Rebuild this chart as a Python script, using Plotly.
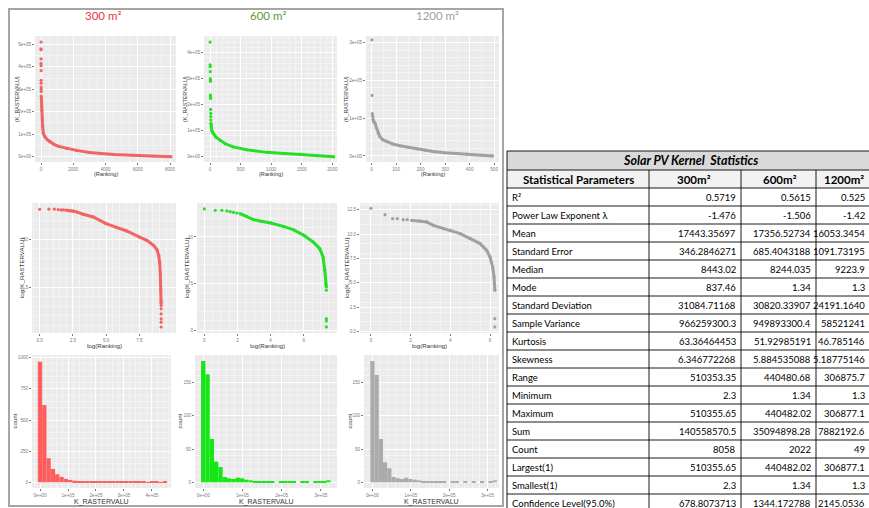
import numpy as np
import plotly.graph_objects as go

W, H = 869, 508

# ---------------- data ----------------
# Row 1: value vs rank
rank_300 = [1, 2, 3, 4, 5, 6, 7, 8, 9, 10, 12, 15, 20, 25, 30, 40, 50, 70, 100, 144, 250, 400, 554,
            800, 1100, 1580, 2200, 3000, 3630, 4500, 5680, 7000, 8058]
val_300 = [510356, 480000, 476000, 435000, 415000, 405000, 383000, 340000, 327000, 310000, 300000,
           290000, 270000, 255000, 245000, 225000, 205000, 170000, 135000, 104000, 88000, 75000, 67000,
           55000, 46000, 37000, 28000, 19000, 14000, 10000, 6000, 3000, 2.3]
rank_600 = [1, 2, 3, 4, 5, 6, 7, 8, 9, 10, 11, 12, 13, 14, 16, 20, 30, 54, 100, 163, 250, 380, 600,
            925, 1200, 1470, 1750, 2022]
val_600 = [440482, 353000, 346000, 327000, 300000, 295000, 290000, 237000, 230000, 224000, 182000,
           167000, 154000, 141000, 128000, 118000, 100000, 90000, 75000, 64000, 50000, 38000, 27000,
           17000, 12500, 10000, 6000, 1.34]
rank_1200 = [1, 2, 3, 4, 5, 6, 7, 8, 9, 10, 14, 20, 27, 34, 45, 61, 85, 115, 150, 183, 220, 251, 300,
             387, 450, 494]
val_1200 = [306877, 160000, 112000, 108000, 103000, 97000, 94000, 92000, 91000, 89000, 86000, 74000,
            60000, 51000, 43000, 38000, 32000, 27000, 23000, 19000, 14500, 11500, 8500, 5000, 2500, 1.34]
dense_from = {"300": 12, "600": 14, "1200": 9}

# Row 2: log(value) vs log(rank)
llx_300 = [0, 0.69, 1.10, 1.39, 1.61, 1.79, 2.0, 2.3, 2.52, 2.77, 3.27, 4.03, 4.99, 5.79, 6.55, 7.51,
           8.06, 8.56, 8.82, 8.95, 9.02, 9.07, 9.10, 9.12, 9.13, 9.13, 9.13, 9.13, 9.13, 9.13, 9.13]
lly_300 = [13.14, 13.15, 13.15, 13.11, 13.08, 13.08, 13.05, 13.0, 12.97, 12.87, 12.62, 12.34, 11.64,
           11.22, 10.87, 10.24, 9.90, 9.37, 8.92, 8.3, 7.6, 6.4, 4.65, 3.6, 3.3, 3.08, 2.73, 2.2, 1.68,
           1.33, 0.83]
llx_600 = [0, 0.66, 1.06, 1.36, 1.56, 1.76, 1.96, 2.16, 2.56, 2.96, 3.36, 4.0, 4.76, 5.36, 6.0, 6.56,
           6.96, 7.16, 7.26, 7.32, 7.36, 7.36, 7.36, 7.36, 7.36]
lly_600 = [13.0, 12.86, 12.86, 12.79, 12.71, 12.64, 12.57, 12.5, 12.21, 11.86, 11.71, 11.5, 11.14,
           10.79, 10.18, 9.46, 8.75, 7.86, 6.43, 5.0, 4.64, 4.29, 1.25, 1.0, 0.36]
llx_1200 = [0, 0.71, 1.09, 1.33, 1.63, 1.83, 2.05, 2.47, 2.81, 3.14, 3.65, 4.02, 4.49, 5.0, 5.5, 5.83,
            6.0, 6.13, 6.2, 6.24, 6.24, 6.24]
lly_1200 = [12.63, 11.98, 11.57, 11.57, 11.47, 11.47, 11.4, 11.34, 11.24, 10.89, 10.55, 10.38, 10.04,
            9.53, 9.02, 8.33, 7.65, 6.63, 5.6, 4.23, 1.33, 0.48]
ll_dense_from = {"300": 6, "600": 7, "1200": 6}
ll_dense_to = {"300": 25, "600": 21, "1200": 20}

# Row 3: histogram counts (30 bins each)
binw_300, binw_600, binw_1200 = 15400, 11000, 11000
cnt_300 = [968, 620, 193, 107, 64, 43, 27, 19, 13, 10, 7, 5, 4, 3, 4, 3, 3, 4, 3, 3, 4, 3, 3, 4, 3,
           2, 4, 3, 2, 4]
cnt_600 = [182, 162, 65, 31, 23, 8, 6, 5, 7, 6, 4, 3, 2, 1, 1, 2, 1, 0, 1, 1, 1, 1, 0, 1, 1, 0, 1,
           1, 1, 3]
cnt_1200 = [182, 161, 65, 30, 21, 8, 6, 5, 7, 5, 4, 3, 2, 1, 1, 2, 1, 1, 0, 1, 1, 0, 1, 0, 1, 0, 1,
            0, 1, 3]

# Table
table_title = "Solar PV Kernel  Statistics"
params = ["R²", "Power Law Exponent λ", "Mean", "Standard Error", "Median", "Mode",
          "Standard Deviation", "Sample Variance", "Kurtosis", "Skewness", "Range", "Minimum",
          "Maximum", "Sum", "Count", "Largest(1)", "Smallest(1)", "Confidence Level(95.0%)"]
v300 = ["0.5719", "-1.476", "17443.35697", "346.2846271", "8443.02", "837.46", "31084.71168",
        "966259300.3", "63.36464453", "6.346772268", "510353.35", "2.3", "510355.65", "140558570.5",
        "8058", "510355.65", "2.3", "678.8073713"]
v600 = ["0.5615", "-1.506", "17356.52734", "685.4043188", "8244.035", "1.34", "30820.33907",
        "949893300.4", "51.92985191", "5.884535088", "440480.68", "1.34", "440482.02", "35094898.28",
        "2022", "440482.02", "1.34", "1344.172788"]
v1200 = ["0.525", "-1.42", "16053.3454", "1091.73195", "9223.9", "1.3", "24191.1640", "58521241",
         "46.785146", "5.18775146", "306875.7", "1.3", "306877.1", "7882192.6", "49", "306877.1",
         "1.3", "2145.0536"]
col_heads = ["300m²", "600m²", "1200m²"]
size_titles = ["300 m²", "600 m²", "1200 m²"]

# ---------------- styling ----------------
RED, GREEN, GREY = "#F26464", "#27DE27", "#A0A0A0"
BAR_RED, BAR_GREEN, BAR_GREY = "#FF5E5E", "#16E616", "#ABABAB"
TITLE_COLORS = ["#E8383A", "#5A9A3A", "#A0A0A0"]
TICKFONT = dict(family="Liberation Sans", size=4.6, color="#7A7A7A")
TFONT = "Lato"
XT_SIZE = {0: 5.6, 1: 6.2, 2: 7.0}
YT_SIZE = {0: 5.4, 1: 6.2, 2: 6.0}


def fx(px):
    return px / W


def fy(py):
    return 1 - py / H


def sci(v):
    return "0e+00" if v == 0 else "%de+05" % int(round(v / 1e5))


panels = [
    # row 1
    dict(box=(35, 176, 36, 162), xr=[-372, 8372], yr=[-23600, 537000],
         xt=[0, 2000, 4000, 6000, 8000], yt=[0, 1e5, 2e5, 3e5, 4e5, 5e5], ysci=True,
         xtitle="(Ranking)", ytitle="(K_RASTERVALU)", ytx=17),
    dict(box=(204, 337, 36, 162), xr=[-98, 2075], yr=[-20000, 464000],
         xt=[0, 500, 1000, 1500, 2000], yt=[0, 1e5, 2e5, 3e5, 4e5], ysci=True,
         xtitle="(Ranking)", ytitle="(K_RASTERVALU)", ytx=185),
    dict(box=(366, 499, 36, 162), xr=[-23, 520], yr=[-16000, 317000],
         xt=[0, 100, 200, 300, 400, 500], yt=[0, 1e5, 2e5, 3e5], ysci=True,
         xtitle="(Ranking)", ytitle="(K_RASTERVALU)", ytx=346),
    # row 2
    dict(box=(32, 176, 203, 333), xr=[-0.58, 10.25], yr=[0.2, 13.8],
         xt=[0, 2.5, 5, 7.5], xtt=["0.0", "2.5", "5.0", "7.5"], yt=[5, 10],
         xtitle="log(Ranking)", ytitle="log(K_RASTERVALU)", ytx=21),
    dict(box=(197, 337, 203, 333), xr=[-0.44, 8.0], yr=[-0.29, 13.64],
         xt=[0, 2, 4, 6], yt=[0, 5, 10],
         xtitle="log(Ranking)", ytitle="log(K_RASTERVALU)", ytx=186),
    dict(box=(360, 499, 203, 333), xr=[-0.55, 6.45], yr=[-0.14, 13.18],
         xt=[0, 2, 4, 6], yt=[0, 2.5, 5, 7.5, 10, 12.5],
         ytt=["0.0", "2.5", "5.0", "7.5", "10.0", "12.5"],
         xtitle="log(Ranking)", ytitle="log(K_RASTERVALU)", ytx=346),
    # row 3
    dict(box=(32, 171, 355, 488), xr=[-28600, 468000], yr=[-46, 1022],
         xt=[0, 1e5, 2e5, 3e5, 4e5], xsci=True, yt=[0, 250, 500, 750, 1000],
         xtitle="K_RASTERVALU", ytitle="count", ytx=14),
    dict(box=(195, 337, 355, 488), xr=[-21000, 341000], yr=[-8.5, 191],
         xt=[0, 1e5, 2e5, 3e5], xsci=True, yt=[0, 50, 100, 150],
         xtitle="K_RASTERVALU", ytitle="count", ytx=179),
    dict(box=(364, 499, 355, 488), xr=[-22000, 330000], yr=[-8.5, 191],
         xt=[0, 1e5, 2e5, 3e5], xsci=True, yt=[0, 50, 100, 150],
         xtitle="K_RASTERVALU", ytitle="count", ytx=349),
]
xtitle_y = {0: 173.5, 1: 345, 2: 501.5}

fig = go.Figure()
layout = dict(width=W, height=H, margin=dict(l=0, r=0, t=0, b=0), paper_bgcolor="white",
              plot_bgcolor="#EBEBEB", showlegend=False, annotations=[], shapes=[])

for i, p in enumerate(panels):
    n = i + 1
    x0, x1, y0, y1 = p["box"]
    xt = p["xt"]
    yt = p["yt"]
    xtt = p.get("xtt") or ([sci(v) for v in xt] if p.get("xsci") else [str(int(v)) for v in xt])
    ytt = p.get("ytt") or ([sci(v) for v in yt] if p.get("ysci") else
                           [str(int(v)) if float(v).is_integer() else str(v) for v in yt])
    common = dict(showgrid=True, gridcolor="white", gridwidth=0.8, zeroline=False, showline=False,
                  ticks="outside", ticklen=2, tickwidth=0.6, tickcolor="#7A7A7A", tickfont=TICKFONT,
                  minor=dict(showgrid=True, gridcolor="#F4F4F4", gridwidth=0.5, ticks=""),
                  fixedrange=True)
    layout["xaxis" if n == 1 else f"xaxis{n}"] = dict(
        common, domain=[fx(x0), fx(x1)], range=p["xr"], tickvals=xt, ticktext=xtt,
        anchor="y" if n == 1 else f"y{n}")
    layout["yaxis" if n == 1 else f"yaxis{n}"] = dict(
        common, domain=[fy(y1), fy(y0)], range=p["yr"], tickvals=yt, ticktext=ytt,
        anchor="x" if n == 1 else f"x{n}")
    row = i // 3
    layout["annotations"].append(dict(
        x=fx((x0 + x1) / 2), y=fy(xtitle_y[row]), xref="paper", yref="paper", text=p["xtitle"],
        showarrow=False, font=dict(family="Liberation Sans", size=XT_SIZE[row], color="#333333"),
        xanchor="center", yanchor="middle"))
    layout["annotations"].append(dict(
        x=fx(p["ytx"]), y=fy((y0 + y1) / 2), xref="paper", yref="paper", text=p["ytitle"],
        showarrow=False, font=dict(family="Liberation Sans", size=YT_SIZE[row], color="#333333"),
        textangle=-90, xanchor="center", yanchor="middle"))


def axes(n):
    return ("x" if n == 1 else f"x{n}", "y" if n == 1 else f"y{n}")


# Row 1 traces
for n, (rk, vv, col, key) in enumerate([(rank_300, val_300, RED, "300"),
                                         (rank_600, val_600, GREEN, "600"),
                                         (rank_1200, val_1200, GREY, "1200")], start=1):
    xa, ya = axes(n)
    d = dense_from[key]
    fig.add_trace(go.Scatter(x=rk[d:], y=vv[d:], mode="lines", line=dict(color=col, width=3),
                             xaxis=xa, yaxis=ya, hoverinfo="skip"))
    fig.add_trace(go.Scatter(x=rk, y=vv, mode="markers", marker=dict(color=col, size=3.2),
                             xaxis=xa, yaxis=ya))

# Row 2 traces
for n, (lx, ly, col, key) in enumerate([(llx_300, lly_300, RED, "300"),
                                         (llx_600, lly_600, GREEN, "600"),
                                         (llx_1200, lly_1200, GREY, "1200")], start=4):
    xa, ya = axes(n)
    a, b = ll_dense_from[key], ll_dense_to[key]
    fig.add_trace(go.Scatter(x=lx[a:b], y=ly[a:b], mode="lines", line=dict(color=col, width=3),
                             xaxis=xa, yaxis=ya, hoverinfo="skip"))
    fig.add_trace(go.Scatter(x=lx, y=ly, mode="markers", marker=dict(color=col, size=3.2),
                             xaxis=xa, yaxis=ya))

# Row 3 traces
for n, (cnt, bw, col) in enumerate([(cnt_300, binw_300, BAR_RED),
                                     (cnt_600, binw_600, BAR_GREEN),
                                     (cnt_1200, binw_1200, BAR_GREY)], start=7):
    xa, ya = axes(n)
    centers = np.arange(len(cnt)) * bw
    fig.add_trace(go.Bar(x=centers, y=cnt, width=bw, marker=dict(color=col, line=dict(width=0)),
                         xaxis=xa, yaxis=ya))

# Size titles above columns
for t, cx, c in zip(size_titles, [103, 268, 437], TITLE_COLORS):
    layout["annotations"].append(dict(x=fx(cx), y=fy(16), xref="paper", yref="paper", text=t,
                                      showarrow=False, font=dict(family=TFONT, size=11.5, color=c),
                                      xanchor="center", yanchor="middle"))

# Outer frame around the chart grid
layout["shapes"].append(dict(type="rect", xref="paper", yref="paper", x0=fx(9), x1=fx(503),
                             y0=fy(506), y1=fy(9), line=dict(color="#A6A6A6", width=2)))

# ---------------- table ----------------
TL, TR = 507, 885
cols = [507, 649, 741, 816, 885]
t_top, t_title_b, t_head_b, rh = 151, 170, 188, 18
n_rows = len(params)
t_bot = t_head_b + rh * n_rows


def rect(x0, x1, y0, y1, fill=None, lw=0.8, lc="black"):
    layout["shapes"].append(dict(type="rect", xref="paper", yref="paper", x0=fx(x0), x1=fx(x1),
                                 y0=fy(y1), y1=fy(y0), fillcolor=fill or "rgba(0,0,0,0)",
                                 line=dict(color=lc, width=lw), layer="below" if fill else "above"))


def line(x0, y0, x1, y1, lw=0.9):
    layout["shapes"].append(dict(type="line", xref="paper", yref="paper", x0=fx(x0), x1=fx(x1),
                                 y0=fy(y0), y1=fy(y1), line=dict(color="black", width=lw)))


rect(TL, TR, t_top, t_title_b, fill="#D9D9D9", lw=0)
rect(TL, TR, t_title_b, t_head_b, fill="#F2F2F2", lw=0)
line(TL, t_top, TR, t_top)
line(TL, t_title_b, TR, t_title_b)
for k in range(n_rows + 1):
    line(TL, t_head_b + k * rh, TR, t_head_b + k * rh)
line(TL, t_top, TL, t_bot)
for cxp in cols[1:4]:
    line(cxp, t_title_b, cxp, t_bot)


def ann(x, y, text, anchor="left", size=10, color="black", bold=False, italic=False):
    if bold:
        text = "<b>" + text + "</b>"
    if italic:
        text = "<i>" + text + "</i>"
    layout["annotations"].append(dict(x=fx(x), y=fy(y), xref="paper", yref="paper", text=text,
                                      showarrow=False, xanchor=anchor, yanchor="middle",
                                      font=dict(family=TFONT, size=size, color=color)))


ann(690, (t_top + t_title_b) / 2, table_title, anchor="center", size=12.5, bold=True, italic=True)
hy = (t_title_b + t_head_b) / 2
ann(578, hy, "Statistical Parameters", anchor="center", size=11.5, bold=True)
for h, cx in zip(col_heads, [694, 780, 844]):
    ann(cx, hy, h, anchor="center", size=11.5, bold=True)

for k in range(n_rows):
    cy = t_head_b + k * rh + rh / 2 + 0.5
    ann(510, cy, params[k], anchor="left", size=9.5)
    ann(cols[2] - 3, cy, v300[k], anchor="right", size=9.5)
    ann(cols[3] - 3, cy, v600[k], anchor="right", size=9.5)
    ann(867, cy, v1200[k], anchor="right", size=9.5)

fig.update_layout(**layout)
fig.write_html("out.html", config={"displayModeBar": False},
               post_script="document.body.style.margin='0px';document.body.style.overflow='hidden';")
